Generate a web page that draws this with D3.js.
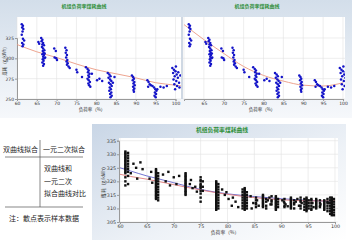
<!DOCTYPE html>
<html>
<head>
<meta charset="utf-8">
<script src="https://cdn.jsdelivr.net/npm/d3@7"></script>
<style>
  body { margin: 0; background: #fff; }
  svg { display: block; font-family: "Noto Sans CJK SC", "Noto Sans", sans-serif; }
</style>
</head>
<body>
<svg id="chart" width="352" height="240"></svg>
<script>
// ---- données ----
const titre = "机组负荷率煤耗曲线";
const axeX = "负荷率（%）";
const axeY = "煤耗（g/kWh）";
const xTicks = [60, 65, 70, 75, 80, 85, 90, 95, 100];
const topYTicks = [250, 275, 300, 325];
const bottomYTicks = [305, 310, 315, 320, 325, 330, 335];

// points échantillon (haut) : [charge,煤耗]
const topPoints = [
  [61.2,342],[61.5,340],[61.3,338],[61.6,336],[61.4,333],[61.2,329],[61.5,324],[61.8,322],[61.3,319],[61.6,317],[61.4,315],
  [65.4,320],[65.6,318],[66.1,325],[66.4,323],[66.2,321],[66.6,319],[66.4,317],[66.8,316],[66.3,314],[66.6,312],[66.9,310],
  [66.5,309],[66.7,307],[66.4,305],[66.8,304],[66.6,302],[66.9,300],[66.5,299],[66.7,297],[66.4,295],[66.8,293],[66.6,291],
  [67.0,306],[67.1,301],
  [69.4,312],[69.8,309],[69.5,301],[69.9,300],[70.1,298],
  [72.2,313],[72.5,310],[72.3,307],[72.6,304],[72.4,301],[72.7,298],[72.5,296],[72.8,294],[72.6,292],[73.0,290],[73.3,288],
  [75.0,286],[75.2,283],[76.4,277],
  [77.4,289],[77.8,287],[78.1,285],[77.9,283],[78.3,281],[78.0,279],[78.2,277],[77.8,275],[78.1,273],[78.4,271],[78.0,269],
  [78.2,267],[78.5,265],[78.9,281],
  [80.2,273],[81.5,272],[80.8,275],
  [82.9,282],[83.3,280],[83.6,278],[83.1,276],[83.5,274],[83.8,272],[83.2,270],[83.6,268],[83.9,266],[83.4,264],[83.7,262],
  [83.3,260],[83.8,258],[83.5,256],[83.9,254],[83.6,252],[84.6,277],[84.2,270],
  [89.0,279],[89.3,277],[89.5,275],[89.2,273],[89.6,271],[89.4,269],[89.7,267],[89.3,265],[89.6,263],[89.4,261],[89.5,259],
  [92.9,273],[93.2,271],[93.5,268],[93.1,265],
  [94.2,266],[94.6,264],[94.9,262],[95.2,260],[94.8,258],[95.1,256],[94.7,254],[95.0,252],[95.4,262],[93.8,267],
  [96.2,265],[97.0,264],[97.8,266],
  [99.2,288],[99.6,286],[100.0,284],[99.4,282],[100.3,280],[99.8,278],[100.6,276],[99.5,274],[100.2,272],[100.9,270],
  [99.7,268],[100.4,266],[101.0,264],[99.9,262],[100.7,283],[101.2,279],[100.1,290]
];

// courbes d'ajustement (haut)
const hyperLoads = [60, 65, 70, 75, 80, 85, 90, 95, 100, 101.5];
const hyperValues = [317, 308, 301, 293, 286, 281, 276, 270, 267, 266];
const quadLoads = [60, 65, 70, 75, 80, 85, 90, 95, 100];
const quadValues = [341.5, 323, 306, 290, 279, 272, 267, 266, 270];

// points échantillon (bas) : colonnes par charge
const bottomLoads = [61.0, 61.5, 66.7, 67.1, 72.2, 75.0, 75.4, 77.9, 78.3, 82.8, 83.2, 83.6, 86.6, 89.0, 89.4, 91.8,
  94.3, 94.7, 95.1, 96.5, 98.0, 99.4, 99.8,
  85.3, 87.2, 88.2, 90.6, 92.4, 93.6, 95.6, 97.2, 98.6, 99.1];
const bottomCoal = [
  [331,330.5,330,329.5,329,328.5,328,327.5,327,326.5,326,325.5,325,324.5,324,323.5,323,321.5,320,318.5],
  [330.5,329.5,328.5,327.5,326.5,325.5,324.5,323.5,322,319],
  [324.5,324,323.5,323,322.5,322,321.5,321,320.5,320,319.5,319,318.5,318,317.5,317,316.5,316,315.5,315,314.5,314,313.5],
  [323,322,321,320,319,318,317,316,315,314,313],
  [323,322.5,322,321.5,321,320.5,320,319.5,319,318.5,318,317.5,317,316.5,316,315.5,315],
  [321.5,320.5,320,319,318.5,318,317.5,316.5,315.5,314,312.5],
  [320,318,316.5],
  [320,319.5,319,318.5,318,317.5,317,316.5,316,315.5,315,314.5,314,313.5,313,312.5,312,311.5,311,310.5,310,309.5],
  [319,318,317,316,315,314,313,312,311,310],
  [317,316,315,314,313,312,311,310],
  [317.5,317,316.5,316,315.5,315,314.5,314,313.5,313,312.5,312,311.5,311,310.5,310,309.5],
  [316,315,314,313,312,311,310],
  [315,314.5,314,313.5,313,312.5,312,311.5,311,310.5],
  [314.5,314,313.5,313,312.5,312,311.5,311,310.5,310,309.5],
  [313.5,312.5,311.5,310.5],
  [314,313.5,313,312.5,312,311.5,311,310.5,310],
  [313.5,312.5,311.5,310.5,309.5],
  [314,313.5,313,312.5,312,311.5,311,310.5,310,309.5,309],
  [313,312,311,310],
  [313.5,313,312.5,312,311.5,311,310.5,310],
  [313,312.5,312,311.5,311,310.5,310,309.5],
  [314,313.5,313,312.5,312,311.5,311,310.5,310,309.5,309,308.5,308,307.5],
  [313.5,312.5,311.5,310.5,309.5,308.5,307.5],
  [314,313,312,311.5,310.5],
  [313.5,312.5,311,310],
  [314.5,313,312.5,311.5],
  [313.5,312,311,310.5],
  [313,312,311.5,310],
  [314,313,312.5,311,310],
  [313.5,313,312,311,310,309.5],
  [313,312,311,310.5],
  [313.5,312.5,312,311,310,309],
  [314,313,312,311,310,309,308]
];
// points isolés (bas)
const bottomScatter = [
  [62.5,326.5],[63,325],[63.8,327],[64.2,324.5],[62,323],[63.2,321],
  [68,322.5],[68.5,320],[69,323.5],[69.3,318.5],[70,321.5],[70.5,319],[71,322],[65.5,321],[66,319.5],[65.8,323.5],
  [73,319],[73.5,317.5],[74,318],[74.3,316.2],[73.2,320.5],
  [79,317],[79.5,315],[80.2,313.5],[80.8,311],[81.5,312.5],[82,310.5],[79.8,316],[81,314],
  [84.3,314.5],[84.8,312],[85.5,313],[85.8,311],[84.5,310],
  [87.5,313],[88,311.5],[87.8,314],
  [90.2,313],[90.8,311.5],[90.5,312.5],[91.2,310.8],
  [92.7,312.5],[93.3,311],[93,313.5],[93.8,312],
  [95.8,312],[96,310.5],[97.3,311.5],[98.8,312]
];

// courbes d'ajustement (bas)
const bLoads = [60, 62, 65, 67, 70, 75, 80, 85, 90, 95, 100];
const bHyper = [325, 323.8, 322, 321, 319.5, 317, 315.4, 314.4, 313.6, 313, 312.5];
const bQuad = [322.6, 321.8, 320.8, 320, 318.8, 316.8, 315.2, 314, 313.2, 312.8, 312.8];

// texte à gauche
const legendeHaut = ["双曲线拟合", "一元二次拟合"];
const legendeMilieu = ["双曲线和", "一元二次", "拟合曲线对比"];
const note = "注：散点表示样本数据";

// ---- dessin ----
const svg = d3.select('#chart');
const defs = svg.append('defs');

const gradTop = defs.append('linearGradient').attr('id', 'gTop')
  .attr('x1', 0).attr('y1', 0).attr('x2', 0).attr('y2', 1);
gradTop.append('stop').attr('offset', 0).attr('stop-color', '#d3deea');
gradTop.append('stop').attr('offset', 1).attr('stop-color', '#f6f8fb');

const gradBot = defs.append('linearGradient').attr('id', 'gBot')
  .attr('x1', 0).attr('y1', 0).attr('x2', 1).attr('y2', 1);
gradBot.append('stop').attr('offset', 0).attr('stop-color', '#c9d6e6');
gradBot.append('stop').attr('offset', 0.6).attr('stop-color', '#eef2f7');
gradBot.append('stop').attr('offset', 1).attr('stop-color', '#ffffff');

function drawTop(cfg) {
  const g = svg.append('g');
  const clipId = 'clip' + cfg.id;
  defs.append('clipPath').attr('id', clipId)
    .append('rect').attr('x', cfg.px).attr('y', 0).attr('width', cfg.pw).attr('height', 120);

  const root = g.attr('clip-path', `url(#${clipId})`);

  root.append('rect')
    .attr('x', cfg.px).attr('y', 0).attr('width', cfg.pw).attr('height', 118)
    .attr('fill', 'url(#gTop)');

  const x = d3.scaleLinear().domain([60, 100]).range(cfg.xRange);
  const y = d3.scaleLinear().domain([250, 325]).range([99, 38]);

  root.append('rect')
    .attr('x', cfg.plotLeft).attr('y', 17)
    .attr('width', cfg.plotRight - cfg.plotLeft).attr('height', 82)
    .attr('fill', '#fff');

  // grille
  root.append('g').selectAll('line.v').data(xTicks).join('line')
    .attr('x1', d => x(d)).attr('x2', d => x(d)).attr('y1', 17).attr('y2', 99)
    .attr('stroke', '#e2e2e2').attr('stroke-width', 0.6);
  root.append('g').selectAll('line.h').data(topYTicks).join('line')
    .attr('x1', cfg.plotLeft).attr('x2', cfg.plotRight).attr('y1', d => y(d)).attr('y2', d => y(d))
    .attr('stroke', '#e2e2e2').attr('stroke-width', 0.6);

  // axes
  root.append('g')
    .attr('transform', 'translate(0,99)')
    .call(d3.axisBottom(x).tickValues(cfg.xLabels).tickSize(2).tickPadding(1))
    .call(a => a.select('.domain').attr('stroke', '#999'))
    .call(a => a.selectAll('line').attr('stroke', '#999'))
    .call(a => a.selectAll('text').attr('font-size', 4.5).attr('fill', '#333').attr('font-family', 'DejaVu Sans'));

  if (cfg.yAxis) {
    root.append('g')
      .attr('transform', `translate(${cfg.plotLeft},0)`)
      .call(d3.axisLeft(y).tickValues(topYTicks).tickSize(2).tickPadding(1))
      .call(a => a.select('.domain').attr('stroke', '#999'))
      .call(a => a.selectAll('line').attr('stroke', '#999'))
      .call(a => a.selectAll('text').attr('font-size', 4.5).attr('fill', '#333').attr('font-family', 'DejaVu Sans'));
    root.append('text')
      .attr('transform', `translate(6,60) rotate(-90)`)
      .attr('text-anchor', 'middle')
      .attr('font-size', 4.5).attr('fill', '#333')
      .text(axeY);
  }

  const plot = root.append('g');
  defs.append('clipPath').attr('id', clipId + 'p')
    .append('rect').attr('x', cfg.plotLeft).attr('y', 17)
    .attr('width', cfg.plotRight - cfg.plotLeft).attr('height', 83);
  plot.attr('clip-path', `url(#${clipId}p)`);

  const line = d3.line().x(d => x(d[0])).y(d => y(d[1])).curve(d3.curveMonotoneX);
  plot.append('path')
    .datum(d3.zip(cfg.curveX, cfg.curveY))
    .attr('d', line)
    .attr('fill', 'none').attr('stroke', '#eb9a82').attr('stroke-width', 0.9);

  plot.append('g').selectAll('circle').data(topPoints).join('circle')
    .attr('cx', d => x(d[0])).attr('cy', d => y(d[1])).attr('r', 1.25)
    .attr('fill', '#1414c8');

  root.append('text')
    .attr('x', cfg.titleX).attr('y', 8)
    .attr('text-anchor', 'middle')
    .attr('font-size', 5).attr('font-weight', 'bold').attr('fill', '#2f8f3a')
    .text(titre);
  root.append('text')
    .attr('x', cfg.labelX).attr('y', 111)
    .attr('text-anchor', 'middle')
    .attr('font-size', 4.5).attr('fill', '#333')
    .text(axeX);
}

drawTop({ id: 'L', px: 0, pw: 181, xRange: [17, 175.5], plotLeft: 17, plotRight: 181,
  xLabels: xTicks, yAxis: true, curveX: hyperLoads, curveY: hyperValues, titleX: 84, labelX: 92 });
drawTop({ id: 'R', px: 181, pw: 171, xRange: [184, 343], plotLeft: 183, plotRight: 345,
  xLabels: xTicks.slice(1), yAxis: false, curveX: quadLoads, curveY: quadValues, titleX: 257, labelX: 262 });

// séparation entre les deux graphes du haut
svg.append('rect').attr('x', 181).attr('y', 17).attr('width', 2).attr('height', 82).attr('fill', '#cfd8e3');

// ---- texte de gauche ----
const txt = svg.append('g').attr('font-size', 7).attr('fill', '#222');
txt.append('text').attr('x', 3).attr('y', 152).text(legendeHaut[0]);
txt.append('text').attr('x', 43).attr('y', 152).text(legendeHaut[1]);
txt.selectAll('text.m').data(legendeMilieu).join('text')
  .attr('x', 44).attr('y', (d, i) => 171 + i * 12.5).text(d => d);
txt.append('text').attr('x', 9).attr('y', 221).text(note);
svg.append('line').attr('x1', 40).attr('x2', 40).attr('y1', 140).attr('y2', 207).attr('stroke', '#555').attr('stroke-width', 0.7);
svg.append('line').attr('x1', 5).attr('x2', 83).attr('y1', 157).attr('y2', 157).attr('stroke', '#555').attr('stroke-width', 0.7);
svg.append('line').attr('x1', 5).attr('x2', 83).attr('y1', 207).attr('y2', 207).attr('stroke', '#555').attr('stroke-width', 0.7);

// ---- graphe du bas ----
const gb = svg.append('g');
gb.append('rect').attr('x', 92).attr('y', 124).attr('width', 254).attr('height', 116).attr('fill', 'url(#gBot)');

const bx = d3.scaleLinear().domain([60, 100]).range([120, 335]);
const by = d3.scaleLinear().domain([305, 335]).range([222, 140.7]);

gb.append('rect').attr('x', 119).attr('y', 138).attr('width', 219).attr('height', 84).attr('fill', '#fff');
gb.append('g').selectAll('line').data(xTicks).join('line')
  .attr('x1', d => bx(d)).attr('x2', d => bx(d)).attr('y1', 138).attr('y2', 222)
  .attr('stroke', '#e2e2e2').attr('stroke-width', 0.6);
gb.append('g').selectAll('line').data(bottomYTicks).join('line')
  .attr('x1', 119).attr('x2', 338).attr('y1', d => by(d)).attr('y2', d => by(d))
  .attr('stroke', '#e2e2e2').attr('stroke-width', 0.6);

gb.append('g')
  .attr('transform', 'translate(0,222)')
  .call(d3.axisBottom(bx).tickValues(xTicks).tickSize(2).tickPadding(1))
  .call(a => a.select('.domain').attr('stroke', '#999'))
  .call(a => a.selectAll('line').attr('stroke', '#999'))
  .call(a => a.selectAll('text').attr('font-size', 4.8).attr('fill', '#333').attr('font-family', 'DejaVu Sans'));
gb.append('g')
  .attr('transform', 'translate(119,0)')
  .call(d3.axisLeft(by).tickValues(bottomYTicks).tickSize(2).tickPadding(1))
  .call(a => a.select('.domain').attr('stroke', '#999'))
  .call(a => a.selectAll('line').attr('stroke', '#999'))
  .call(a => a.selectAll('text').attr('font-size', 4.8).attr('fill', '#333').attr('font-family', 'DejaVu Sans'));

const bline = d3.line().x(d => bx(d[0])).y(d => by(d[1])).curve(d3.curveMonotoneX);
gb.append('path').datum(d3.zip(bLoads, bHyper)).attr('d', bline)
  .attr('fill', 'none').attr('stroke', '#6464cc').attr('stroke-width', 0.9);
gb.append('path').datum(d3.zip(bLoads, bQuad)).attr('d', bline)
  .attr('fill', 'none').attr('stroke', '#e07a7a').attr('stroke-width', 0.9);

const bottomPoints = bottomLoads.flatMap((l, i) => bottomCoal[i].map(v => [l, v])).concat(bottomScatter);
gb.append('g').selectAll('rect').data(bottomPoints).join('rect')
  .attr('x', d => bx(d[0]) - 1.2).attr('y', d => by(d[1]) - 1.2)
  .attr('width', 2.4).attr('height', 2.4)
  .attr('fill', '#111');

gb.append('text').attr('x', 222).attr('y', 132).attr('text-anchor', 'middle')
  .attr('font-size', 5.8).attr('font-weight', 'bold').attr('fill', '#2f8f3a').text(titre);
gb.append('text').attr('x', 225).attr('y', 234).attr('text-anchor', 'middle')
  .attr('font-size', 4.8).attr('fill', '#333').text(axeX);
gb.append('text').attr('transform', 'translate(105,181) rotate(-90)').attr('text-anchor', 'middle')
  .attr('font-size', 4.8).attr('fill', '#333').text(axeY);
</script>
</body>
</html>
